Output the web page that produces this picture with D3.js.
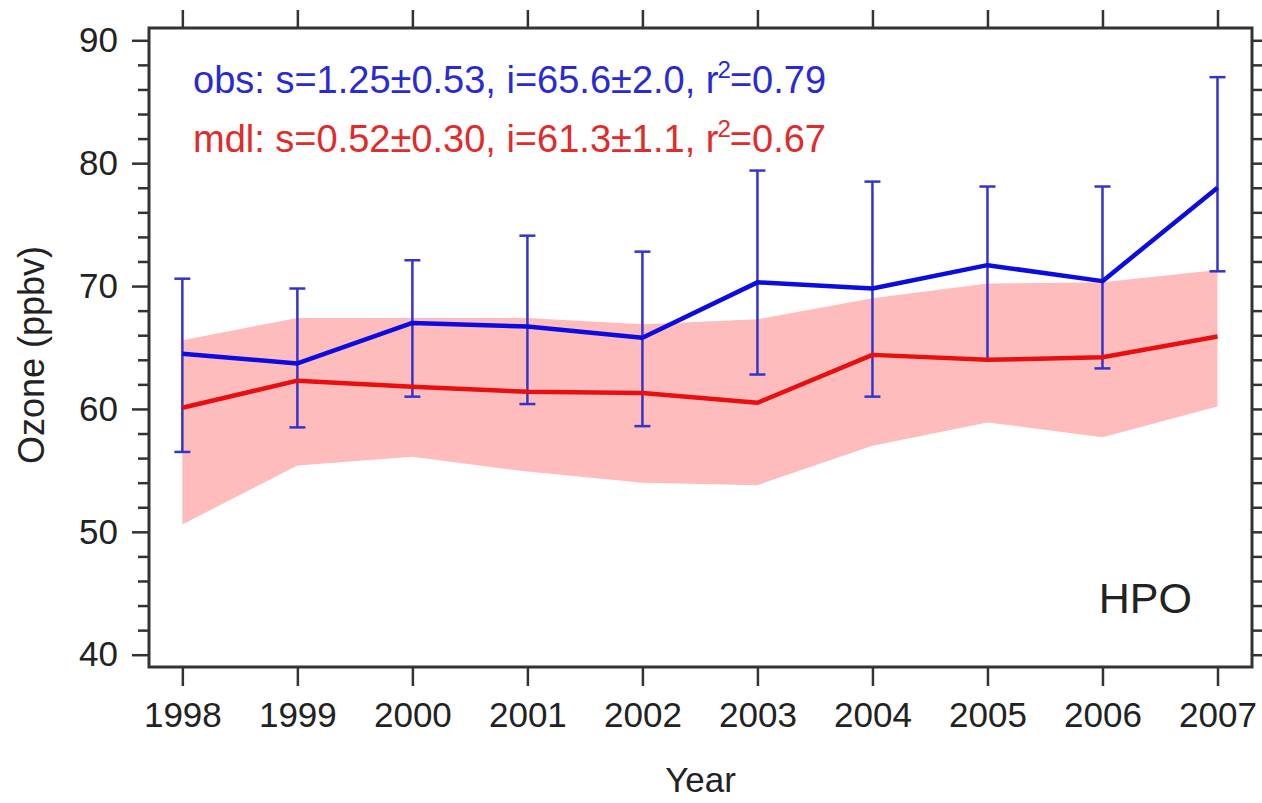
<!DOCTYPE html>
<html>
<head>
<meta charset="utf-8">
<script src="https://cdn.jsdelivr.net/npm/d3@7"></script>
<style>
  html, body { margin: 0; padding: 0; background: #fff; }
  svg { display: block; font-family: "Liberation Sans", Arial, sans-serif; }
</style>
</head>
<body>
<svg id="chart" width="1262" height="803"></svg>
<script>
// Annual mean ozone at HPO: observations (with spread) and model (with range)
const years = [1998, 1999, 2000, 2001, 2002, 2003, 2004, 2005, 2006, 2007];
const obsMean = [64.5, 63.7, 67.0, 66.7, 65.8, 70.3, 69.8, 71.7, 70.4, 78.0];
const obsHigh = [70.6, 69.8, 72.1, 74.1, 72.8, 79.4, 78.5, 78.1, 78.1, 87.0];
const obsLow  = [56.5, 58.5, 61.0, 60.4, 58.6, 62.8, 61.0, 64.0, 63.3, 71.2];
const mdlMean = [60.1, 62.3, 61.8, 61.4, 61.3, 60.5, 64.4, 64.0, 64.2, 65.9];
const mdlHigh = [65.6, 67.4, 67.4, 67.4, 66.9, 67.3, 69.0, 70.2, 70.3, 71.3];
const mdlLow  = [50.6, 55.4, 56.1, 54.9, 54.0, 53.8, 57.0, 58.9, 57.7, 60.2];
const yMajorTicks = [40, 50, 60, 70, 80, 90];
const obsLabel = ["obs: s=1.25\u00b10.53, i=65.6\u00b12.0, r", "2", "=0.79"];
const mdlLabel = ["mdl: s=0.52\u00b10.30, i=61.3\u00b11.1, r", "2", "=0.67"];
const stationName = "HPO";
const xTitle = "Year";
const yTitle = "Ozone (ppbv)";

const svg = d3.select("#chart");
const L = 149, R = 1252, T = 28, B = 667;

const x = d3.scaleLinear().domain([1997.71, 2007.3]).range([L, R]);
const y = d3.scaleLinear().domain([39, 91]).range([B, T]);

const yMinor = d3.range(40, 91, 2).filter(v => v % 10 !== 0);

const rows = years.map((yr, i) => ({
  yr, om: obsMean[i], oh: obsHigh[i], ol: obsLow[i],
  mm: mdlMean[i], mh: mdlHigh[i], ml: mdlLow[i]
}));

const plot = svg.append("g");

// model range band
plot.append("path")
  .datum(rows)
  .attr("fill", "#ffbcbc")
  .attr("d", d3.area().x(d => x(d.yr)).y0(d => y(d.ml)).y1(d => y(d.mh)));

// observation spread bars
const bars = plot.append("g")
  .attr("stroke", "#3434cc")
  .attr("stroke-width", 2.5);
bars.selectAll("line.v").data(rows).join("line")
  .attr("class", "v")
  .attr("x1", d => x(d.yr)).attr("x2", d => x(d.yr))
  .attr("y1", d => y(d.oh)).attr("y2", d => y(d.ol));
bars.selectAll("line.t").data(rows).join("line")
  .attr("class", "t")
  .attr("x1", d => x(d.yr) - 8).attr("x2", d => x(d.yr) + 8)
  .attr("y1", d => y(d.oh)).attr("y2", d => y(d.oh));
bars.selectAll("line.b").data(rows).join("line")
  .attr("class", "b")
  .attr("x1", d => x(d.yr) - 8).attr("x2", d => x(d.yr) + 8)
  .attr("y1", d => y(d.ol)).attr("y2", d => y(d.ol));

// model mean line
plot.append("path")
  .datum(rows)
  .attr("fill", "none")
  .attr("stroke", "#e61010")
  .attr("stroke-width", 4.5)
  .attr("stroke-linejoin", "round")
  .attr("d", d3.line().x(d => x(d.yr)).y(d => y(d.mm)));

// observed mean line
plot.append("path")
  .datum(rows)
  .attr("fill", "none")
  .attr("stroke", "#0c0ce0")
  .attr("stroke-width", 4.5)
  .attr("stroke-linejoin", "round")
  .attr("d", d3.line().x(d => x(d.yr)).y(d => y(d.om)));

// axes
const axisColor = "#333";
function styleAxis(g) {
  g.select(".domain").remove();
  g.selectAll(".tick line").attr("stroke", axisColor).attr("stroke-width", 2.5);
  g.selectAll(".tick text").attr("fill", "#222").style("font-size", "35px");
}

svg.append("g").attr("transform", `translate(${L},0)`)
  .call(d3.axisLeft(y).tickValues(yMinor).tickSize(11).tickFormat(""))
  .call(styleAxis);
svg.append("g").attr("transform", `translate(${L},0)`)
  .call(d3.axisLeft(y).tickValues(yMajorTicks).tickSize(17).tickPadding(14).tickFormat(d3.format("d")))
  .call(styleAxis);
svg.append("g").attr("transform", `translate(${R},0)`)
  .call(d3.axisRight(y).tickValues(yMinor.concat(yMajorTicks)).tickSize(11).tickFormat(""))
  .call(styleAxis);
svg.append("g").attr("transform", `translate(0,${B})`)
  .call(d3.axisBottom(x).tickValues(years).tickSize(19).tickPadding(16).tickFormat(d3.format("d")))
  .call(styleAxis);
svg.append("g").attr("transform", `translate(0,${T})`)
  .call(d3.axisTop(x).tickValues(years).tickSize(18).tickFormat(""))
  .call(styleAxis);

// frame
svg.append("rect")
  .attr("x", L).attr("y", T)
  .attr("width", R - L).attr("height", B - T)
  .attr("fill", "none")
  .attr("stroke", axisColor)
  .attr("stroke-width", 3);

// regression statistics
function statLine(parts, yPos, color) {
  const t = svg.append("text")
    .attr("x", 193).attr("y", yPos)
    .attr("fill", color)
    .style("font-size", "38px");
  t.append("tspan").text(parts[0]);
  t.append("tspan").attr("dy", -15).attr("dx", -1).style("font-size", "24px").text(parts[1]);
  t.append("tspan").attr("dy", 15).attr("dx", -1).text(parts[2]);
}
statLine(obsLabel, 93, "#2a2ad2");
statLine(mdlLabel, 152, "#e22a2a");

svg.append("text")
  .attr("x", 1192).attr("y", 613)
  .attr("text-anchor", "end")
  .attr("fill", "#222")
  .style("font-size", "43px")
  .text(stationName);

svg.append("text")
  .attr("x", (L + R) / 2).attr("y", 792)
  .attr("text-anchor", "middle")
  .attr("fill", "#222")
  .style("font-size", "35px")
  .text(xTitle);

svg.append("text")
  .attr("transform", `translate(44,${355}) rotate(-90)`)
  .attr("text-anchor", "middle")
  .attr("fill", "#222")
  .style("font-size", "36px")
  .text(yTitle);
</script>
</body>
</html>
